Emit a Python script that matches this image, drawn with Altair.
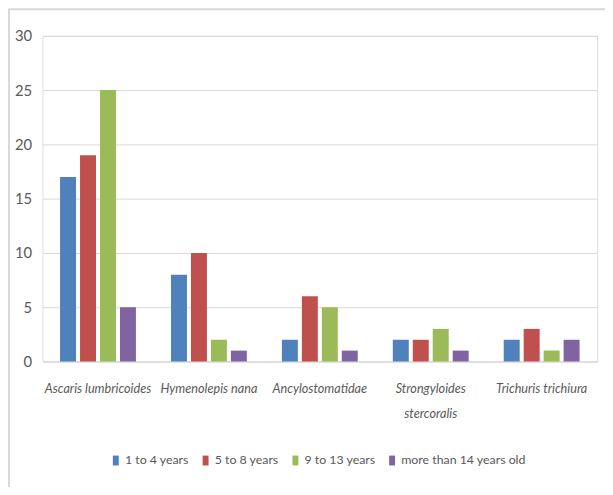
import altair as alt
import pandas as pd

categories = ["Ascaris lumbricoides", "Hymenolepis nana", "Ancylostomatidae",
              "Strongyloides stercoralis", "Trichuris trichiura"]
series = ["1 to 4 years", "5 to 8 years", "9 to 13 years", "more than 14 years old"]
v_1to4 = [17, 8, 2, 2, 2]
v_5to8 = [19, 10, 6, 2, 3]
v_9to13 = [25, 2, 5, 3, 1]
v_14plus = [5, 1, 1, 1, 2]
colors = ["#4F81BD", "#C0504D", "#9BBB59", "#8064A2"]

rows = []
for s, vals in zip(series, [v_1to4, v_5to8, v_9to13, v_14plus]):
    for c, v in zip(categories, vals):
        rows.append({"category": c, "series": s, "value": v})
df = pd.DataFrame(rows)

FONT = "Lato"
GRAY = "#595959"

bars = alt.Chart(df).mark_bar().encode(
    x=alt.X("category:N", sort=categories,
            scale=alt.Scale(paddingInner=0.28, paddingOuter=0.14),
            axis=alt.Axis(title=None, labelAngle=0, ticks=False, domain=True,
                          domainColor="#d9d9d9", domainWidth=1,
                          labelFont=FONT, labelFontSize=12.8, labelFontStyle="italic",
                          labelColor=GRAY, labelPadding=21, labelLineHeight=26,
                          labelBaseline="top",
                          labelExpr="datum.value == 'Strongyloides stercoralis' ? ['Strongyloides', 'stercoralis'] : datum.value")),
    xOffset=alt.XOffset("series:N", sort=series,
                        scale=alt.Scale(paddingInner=0.2, paddingOuter=0.1)),
    y=alt.Y("value:Q", scale=alt.Scale(domain=[0, 30]),
            axis=alt.Axis(title=None, values=[0, 5, 10, 15, 20, 25, 30], ticks=False,
                          domain=False, grid=True, gridColor="#d9d9d9", gridWidth=1,
                          labelFont=FONT, labelFontSize=15, labelColor=GRAY,
                          labelPadding=11)),
    color=alt.Color("series:N", sort=series,
                    scale=alt.Scale(domain=series, range=colors),
                    legend=alt.Legend(title=None, orient="none", direction="horizontal",
                                      legendX=68, legendY=424,
                                      symbolType="M-0.6,-1H0.6V1H-0.6Z",
                                      symbolSize=100, symbolStrokeWidth=0,
                                      labelFont=FONT, labelFontSize=12.5, labelColor=GRAY,
                                      labelOffset=3, columnPadding=10)),
)

border = alt.Chart(alt.Data(values=[{}])).mark_rect(
    fill=None, stroke="#d9d9d9", strokeWidth=2
).encode(
    x=alt.value(-34), x2=alt.value(700), y=alt.value(-27), y2=alt.value(700)
)

chart = alt.layer(border, bars).properties(
    width=562, height=330,
    autosize=alt.AutoSizeParams(type="none"),
    padding={"left": 35, "top": 25, "right": 8, "bottom": 124},
).configure_view(stroke=None).configure(background="white")

chart.save("out.html", embed_options={"renderer": "svg", "actions": False})
